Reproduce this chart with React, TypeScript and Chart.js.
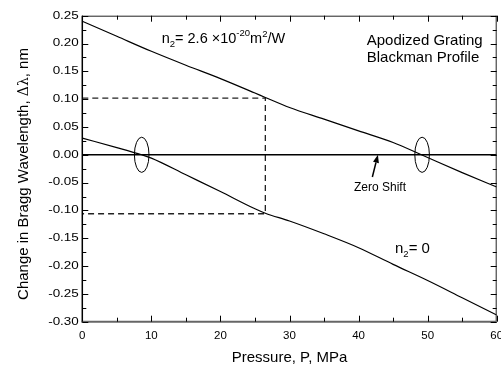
import React, { useEffect, useRef } from "react";
import { Chart, registerables } from "chart.js";

Chart.register(...registerables);

// ---- data ----
const pressureUpper = [0, 5, 10, 15, 20, 25, 26.5, 30, 35, 40, 45, 49.1, 55, 60];
const shiftUpper = [0.24, 0.213, 0.186, 0.161, 0.137, 0.111, 0.103, 0.085, 0.064, 0.043, 0.022, 0.0, -0.032, -0.058];

const pressureLower = [0, 5, 8.6, 10, 15, 20, 25, 26.5, 30, 35, 40, 45, 50, 55, 60];
const shiftLower = [0.03, 0.013, 0.0, -0.006, -0.036, -0.066, -0.097, -0.105, -0.119, -0.142, -0.167, -0.197, -0.226, -0.257, -0.288];

const zeroX = [0, 60];
const zeroY = [0, 0];

const guideX = [0, 26.5, 26.5, 0];
const guideY = [0.102, 0.102, -0.106, -0.106];

const ellipseX = [8.6, 49.2];
const ellipseY = [0, 0];

const arrowTail = [42.0, -0.04];
const arrowTip = [42.8, 0.0];

const X_MIN = 0, X_MAX = 60, X_STEP = 10;
const Y_MIN = -0.3, Y_MAX = 0.25, Y_STEP = 0.05;

const xTitle = "Pressure, P, MPa";
const yTitleParts = ["Change in Bragg Wavelength, ", "\u0394\u03bb", ", nm"];

const SANS = '"Liberation Sans", Arial, sans-serif';
const SERIF = '"DejaVu Serif", serif';

type Seg = { t: string; size: number; dy: number; font?: string };

function richWidth(ctx: CanvasRenderingContext2D, segs: Seg[]) {
  let w = 0;
  for (const s of segs) {
    ctx.font = `${s.size}px ${s.font || SANS}`;
    w += ctx.measureText(s.t).width;
  }
  return w;
}

function drawRich(ctx: CanvasRenderingContext2D, x: number, y: number, segs: Seg[], align: "left" | "center" = "left") {
  let cx = x;
  if (align === "center") cx = x - richWidth(ctx, segs) / 2;
  ctx.textAlign = "left";
  ctx.textBaseline = "alphabetic";
  for (const s of segs) {
    ctx.font = `${s.size}px ${s.font || SANS}`;
    ctx.fillText(s.t, cx, y + s.dy);
    cx += ctx.measureText(s.t).width;
  }
}

const pts = (xs: number[], ys: number[]) => xs.map((x, i) => ({ x, y: ys[i] }));

export default function App() {
  const ref = useRef<HTMLCanvasElement>(null);

  useEffect(() => {
    const decor = {
      id: "decor",
      afterDatasetsDraw(chart: any) {
        const ctx: CanvasRenderingContext2D = chart.ctx;
        const xs = chart.scales.x;
        const ys = chart.scales.y;
        const a = chart.chartArea;
        ctx.save();
        ctx.fillStyle = "#000";
        ctx.strokeStyle = "#000";

        // frame
        ctx.lineWidth = 1;
        ctx.strokeStyle = "#222";
        ctx.beginPath();
        ctx.moveTo(a.left, a.top + 0.5);
        ctx.lineTo(a.right, a.top + 0.5);
        ctx.moveTo(a.right - 0.5, a.top);
        ctx.lineTo(a.right - 0.5, a.bottom);
        ctx.stroke();
        ctx.strokeStyle = "#000";
        ctx.lineWidth = 1.5;
        ctx.beginPath();
        ctx.moveTo(a.left, a.top);
        ctx.lineTo(a.left, a.bottom);
        ctx.stroke();
        ctx.strokeStyle = "#666";
        ctx.lineWidth = 2;
        ctx.beginPath();
        ctx.moveTo(a.left - 1, a.bottom);
        ctx.lineTo(a.right, a.bottom);
        ctx.stroke();

        // ticks
        const xt: number[] = xs.ticks.map((t: any) => t.value);
        const yt: number[] = ys.ticks.map((t: any) => t.value);
        const xMinor: number[] = [];
        for (let i = 0; i < xt.length - 1; i++) xMinor.push((xt[i] + xt[i + 1]) / 2);
        const yMinor: number[] = [];
        for (let i = 0; i < yt.length - 1; i++) yMinor.push((yt[i] + yt[i + 1]) / 2);
        const MAJ = 6, MIN = 4;
        ctx.strokeStyle = "#000";
        ctx.lineWidth = 1;
        ctx.beginPath();
        const xTick = (v: number, len: number) => {
          const px = Math.round(xs.getPixelForValue(v)) + 0.5;
          ctx.moveTo(px, a.bottom);
          ctx.lineTo(px, a.bottom - len);
          ctx.moveTo(px, a.top);
          ctx.lineTo(px, a.top + len);
        };
        const yTick = (v: number, len: number) => {
          const py = Math.round(ys.getPixelForValue(v)) + 0.5;
          ctx.moveTo(a.left, py);
          ctx.lineTo(a.left + len, py);
          ctx.moveTo(a.right, py);
          ctx.lineTo(a.right - len, py);
        };
        xt.forEach((v) => xTick(v, MAJ));
        xMinor.forEach((v) => xTick(v, MIN));
        yt.forEach((v) => yTick(v, MAJ));
        yMinor.forEach((v) => yTick(v, MIN));
        ctx.stroke();

        // tick labels
        ctx.fillStyle = "#000";
        ctx.font = `11.5px ${SANS}`;
        ctx.textAlign = "center";
        ctx.textBaseline = "alphabetic";
        xt.forEach((v) => {
          ctx.fillText(String(Math.round(v)), xs.getPixelForValue(v), a.bottom + 17);
        });
        yt.forEach((v) => {
          const lab = Math.abs(v) < 1e-9 ? "0.00" : v.toFixed(2);
          const py = ys.getPixelForValue(v);
          ctx.save();
          ctx.translate(a.left - 3.5, py);
          ctx.scale(1.28, 1);
          ctx.font = `10.5px ${SANS}`;
          ctx.textAlign = "right";
          ctx.textBaseline = "middle";
          ctx.fillText(lab, 0, 0);
          ctx.restore();
        });

        // axis titles
        drawRich(ctx, (a.left + a.right) / 2, 361.5, [{ t: xTitle, size: 15, dy: 0 }], "center");
        ctx.save();
        ctx.translate(28, 174);
        ctx.rotate(-Math.PI / 2);
        drawRich(
          ctx,
          0,
          0,
          [
            { t: yTitleParts[0], size: 15, dy: 0 },
            { t: yTitleParts[1], size: 14, dy: 0, font: SERIF },
            { t: yTitleParts[2], size: 15, dy: 0 },
          ],
          "center"
        );
        ctx.restore();

        // annotations
        drawRich(ctx, 161.7, 43.3, [
          { t: "n", size: 14.5, dy: 0 },
          { t: "2", size: 9.5, dy: 4 },
          { t: "= 2.6 \u00d710", size: 14.5, dy: 0 },
          { t: "-20", size: 9.5, dy: -7 },
          { t: "m", size: 14.5, dy: 0 },
          { t: "2", size: 9.5, dy: -6 },
          { t: "/W", size: 14.5, dy: 0 },
        ]);
        drawRich(ctx, 366.7, 45, [{ t: "Apodized Grating", size: 15, dy: 0 }]);
        drawRich(ctx, 366.7, 61.7, [{ t: "Blackman Profile", size: 15, dy: 0 }]);
        drawRich(ctx, 380, 190.7, [{ t: "Zero Shift", size: 12, dy: 0 }], "center");
        drawRich(ctx, 395, 253.3, [
          { t: "n", size: 15, dy: 0 },
          { t: "2", size: 9.5, dy: 4 },
          { t: "= 0", size: 15, dy: 0 },
        ]);

        // ellipses
        ctx.strokeStyle = "#000";
        ctx.lineWidth = 1;
        ellipseX.forEach((ex, i) => {
          const px = xs.getPixelForValue(ex);
          const py = ys.getPixelForValue(ellipseY[i]);
          ctx.beginPath();
          ctx.ellipse(px, py, 7.3, 17.6, 0, 0, Math.PI * 2);
          ctx.stroke();
        });

        // arrow
        const tx = xs.getPixelForValue(arrowTail[0]);
        const ty = ys.getPixelForValue(arrowTail[1]);
        const hx = xs.getPixelForValue(arrowTip[0]);
        const hy = ys.getPixelForValue(arrowTip[1]);
        const ang = Math.atan2(hy - ty, hx - tx);
        const L = 8, W = 3;
        const bx = hx - L * Math.cos(ang);
        const by = hy - L * Math.sin(ang);
        ctx.lineWidth = 1.5;
        ctx.beginPath();
        ctx.moveTo(tx, ty);
        ctx.lineTo(bx, by);
        ctx.stroke();
        ctx.beginPath();
        ctx.moveTo(hx, hy);
        ctx.lineTo(bx + W * Math.sin(ang), by - W * Math.cos(ang));
        ctx.lineTo(bx - W * Math.sin(ang), by + W * Math.cos(ang));
        ctx.closePath();
        ctx.fill();

        ctx.restore();
      },
    };

    const chart = new Chart(ref.current as HTMLCanvasElement, {
      type: "line",
      data: {
        datasets: [
          { data: pts(pressureUpper, shiftUpper), borderColor: "#000", borderWidth: 1.2, cubicInterpolationMode: "monotone" },
          { data: pts(pressureLower, shiftLower), borderColor: "#000", borderWidth: 1.2, cubicInterpolationMode: "monotone" },
          { data: pts(zeroX, zeroY), borderColor: "#000", borderWidth: 1.5 },
          { data: pts(guideX, guideY), borderColor: "#222", borderWidth: 1.3, borderDash: [6, 4] },
        ],
      } as any,
      options: {
        responsive: false,
        animation: false,
        parsing: false,
        layout: { padding: { left: 0, top: 15.7, right: 4.3, bottom: 0 } },
        plugins: { legend: { display: false }, tooltip: { enabled: false } },
        elements: { point: { radius: 0 }, line: { tension: 0, fill: false } },
        scales: {
          x: {
            type: "linear",
            min: X_MIN,
            max: X_MAX,
            ticks: { stepSize: X_STEP, display: false },
            grid: { display: false, drawTicks: false },
            border: { display: false },
            afterFit(s: any) {
              s.height = 45.3;
              s.paddingLeft = 0;
              s.paddingRight = 0;
            },
          },
          y: {
            type: "linear",
            min: Y_MIN,
            max: Y_MAX,
            ticks: { stepSize: Y_STEP, display: false },
            grid: { display: false, drawTicks: false },
            border: { display: false },
            afterFit(s: any) {
              s.width = 82.3;
              s.paddingTop = 0;
              s.paddingBottom = 0;
            },
          },
        },
      } as any,
      plugins: [decor],
    });
    return () => chart.destroy();
  }, []);

  return (
    <div style={{ position: "absolute", left: 0, top: 0, width: 501, height: 367, background: "#fff" }}>
      <canvas ref={ref} width={501} height={367} style={{ display: "block" }} />
    </div>
  );
}
